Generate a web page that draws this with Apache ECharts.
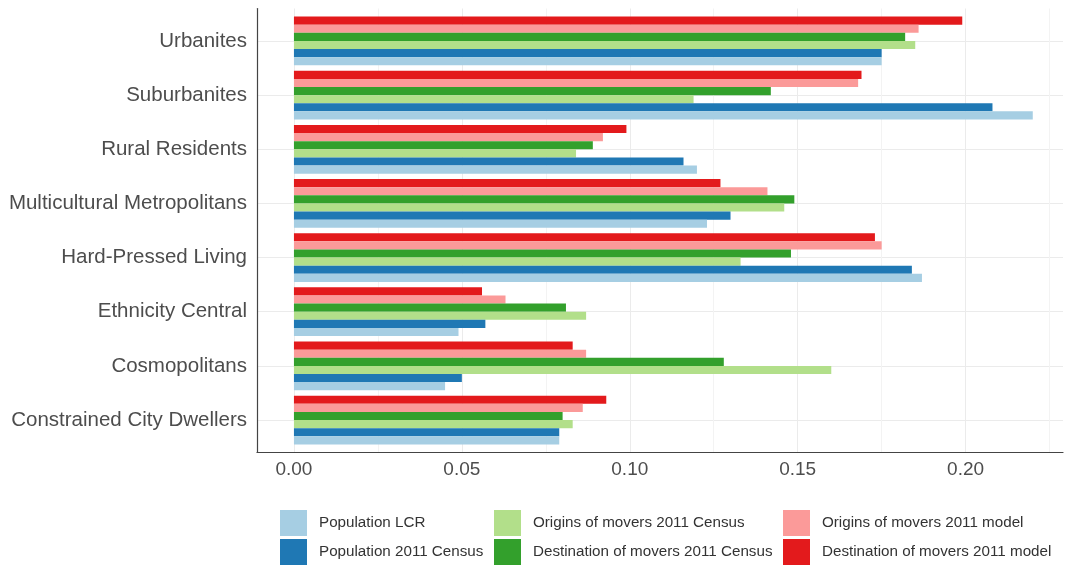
<!DOCTYPE html>
<html>
<head>
<meta charset="utf-8">
<script src="https://cdn.jsdelivr.net/npm/echarts@6/dist/echarts.min.js"></script>
<style>html,body{margin:0;padding:0;background:#fff}#c{width:1066px;height:567px}</style>
</head>
<body>
<div id="c"></div>
<script>
// Categories, top to bottom
const categories = ['Urbanites', 'Suburbanites', 'Rural Residents', 'Multicultural Metropolitans',
  'Hard-Pressed Living', 'Ethnicity Central', 'Cosmopolitans', 'Constrained City Dwellers'];

const seriesNames = ['Population LCR', 'Population 2011 Census', 'Origins of movers 2011 Census',
  'Destination of movers 2011 Census', 'Origins of movers 2011 model', 'Destination of movers 2011 model'];

const populationLCR          = [0.175, 0.220, 0.120, 0.123, 0.187, 0.049, 0.045, 0.079];
const population2011Census   = [0.175, 0.208, 0.116, 0.130, 0.184, 0.057, 0.050, 0.079];
const originsCensus          = [0.185, 0.119, 0.084, 0.146, 0.133, 0.087, 0.160, 0.083];
const destinationCensus      = [0.182, 0.142, 0.089, 0.149, 0.148, 0.081, 0.128, 0.080];
const originsModel           = [0.186, 0.168, 0.092, 0.141, 0.175, 0.063, 0.087, 0.086];
const destinationModel       = [0.199, 0.169, 0.099, 0.127, 0.173, 0.056, 0.083, 0.093];

const majorTicks = [0, 0.05, 0.10, 0.15, 0.20];
const minorTicks = [0.025, 0.075, 0.125, 0.175, 0.225];
const xMin = -0.011, xMax = 0.229;

const colors = ['#A6CEE3', '#1F78B4', '#B2DF8A', '#33A02C', '#FB9A99', '#E31A1C'];
const values = [populationLCR, population2011Census, originsCensus, destinationCensus, originsModel, destinationModel];

const font = 'Liberation Sans, Arial, sans-serif';

const chart = echarts.init(document.getElementById('c'), null, {renderer: 'canvas'});

const legendBase = {
  orient: 'vertical', icon: 'rect', itemWidth: 27, itemHeight: 26, itemGap: 3,
  selectedMode: false, top: 510, padding: 0, height: 57,
  textStyle: {fontFamily: font, fontSize: 15.2, color: '#333333', padding: [0, 0, 0, 7]}
};

// draw in reverse order so that the first series sits at the bottom of each group
const order = [5, 4, 3, 2, 1, 0];

chart.setOption({
  animation: false,
  backgroundColor: '#ffffff',
  grid: [
    {left: 257, right: 3, top: 13.9, bottom: 119.9, containLabel: false},
    {left: 257, right: 3, top: 8.5, bottom: 114.5, containLabel: false}
  ],
  legend: [
    Object.assign({}, legendBase, {left: 280, data: [seriesNames[0], seriesNames[1]]}),
    Object.assign({}, legendBase, {left: 494, data: [seriesNames[2], seriesNames[3]]}),
    Object.assign({}, legendBase, {left: 783, data: [seriesNames[4], seriesNames[5]]})
  ],
  xAxis: [
    {type: 'value', gridIndex: 0, min: xMin, max: xMax, show: false, splitLine: {show: false}},
    {type: 'value', gridIndex: 1, min: xMin, max: xMax,
      axisLine: {show: true, onZero: false, lineStyle: {color: '#444444', width: 1.2}},
      axisTick: {show: false, customValues: majorTicks},
      axisLabel: {show: true, customValues: majorTicks, fontFamily: font, fontSize: 19, color: '#4D4D4D', margin: 8,
        formatter: v => v.toFixed(2)},
      splitLine: {show: true, lineStyle: {color: '#EBEBEB', width: 1}}
    },
    {type: 'value', gridIndex: 1, min: xMin, max: xMax,
      axisLine: {show: false}, axisLabel: {show: false, customValues: minorTicks},
      axisTick: {show: false, customValues: minorTicks},
      splitLine: {show: true, lineStyle: {color: '#F3F3F3', width: 1}}
    }
  ],
  yAxis: [
    {type: 'category', gridIndex: 0, data: categories, inverse: true,
      axisLine: {show: false}, axisTick: {show: false, alignWithLabel: true},
      axisLabel: {interval: 0, fontFamily: font, fontSize: 20.5, color: '#4D4D4D', margin: 10},
      splitLine: {show: true, interval: 0, alignWithLabel: true, lineStyle: {color: '#EBEBEB', width: 1}}
    },
    {type: 'value', gridIndex: 1, min: 0, max: 1,
      axisLine: {show: true, onZero: false, lineStyle: {color: '#444444', width: 1.2}},
      axisTick: {show: false}, axisLabel: {show: false}, splitLine: {show: false}
    }
  ],
  series: order.map(i => ({
    name: seriesNames[i], type: 'bar', xAxisIndex: 0, yAxisIndex: 0,
    data: values[i], barGap: '0%', barCategoryGap: '10%',
    itemStyle: {color: colors[i]}, z: 3
  }))
});
</script>
</body>
</html>
